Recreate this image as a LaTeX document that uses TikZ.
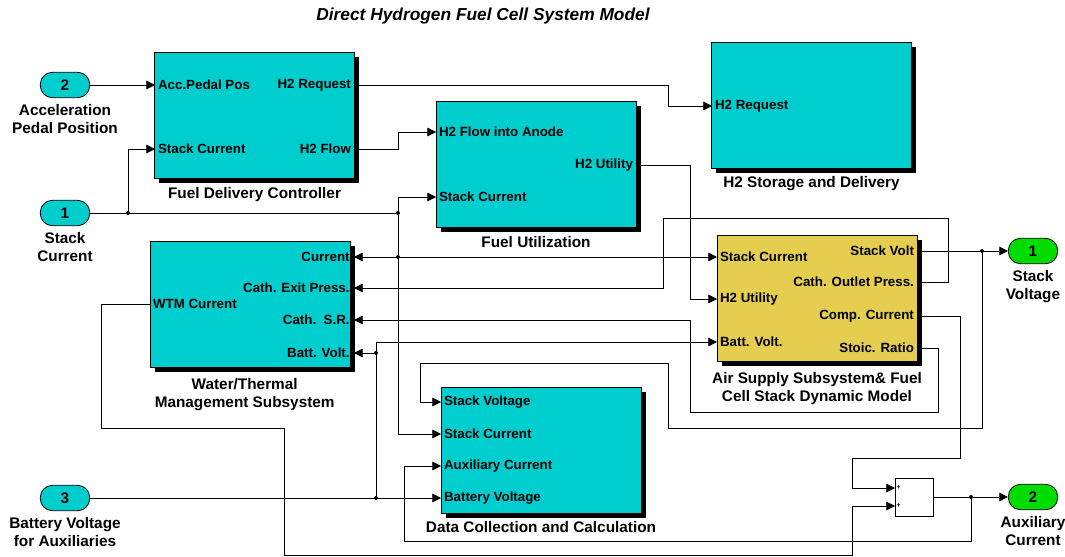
\documentclass[tikz,border=0pt]{standalone}
\usepackage{fontspec}
\setmainfont{Liberation Sans}
\usetikzlibrary{positioning,arrows.meta,shadows}
\definecolor{blockcyan}{RGB}{0,206,206}
\definecolor{blockyellow}{RGB}{229,205,80}
\definecolor{portgreen}{RGB}{0,220,0}

\begin{document}
\begin{tikzpicture}[x=0.75pt, y=-0.75pt, line width=0.6pt,
          blk/.style = {draw, fill=blockcyan, minimum width=150pt, minimum height=94.5pt, inner sep=0pt,
                        drop shadow={shadow xshift=3.5pt, shadow yshift=-3.5pt, fill=black, opacity=1}},
          portlab/.style = {font=\fontsize{10}{12}\selectfont\bfseries, inner xsep=2pt, inner ysep=1pt},
          portin/.style = {portlab, anchor=west},
          portout/.style = {portlab, anchor=east},
          blkcap/.style = {font=\fontsize{11.5}{13.5}\selectfont\bfseries, align=center},
          inport/.style = {draw, fill=blockcyan, rounded corners=9pt, minimum width=37pt, minimum height=19pt,
                           inner sep=0pt, font=\fontsize{11.5}{13}\selectfont\bfseries},
          outport/.style = {inport, fill=portgreen},
          sgn/.style = {font=\fontsize{5}{6}\selectfont\bfseries, inner sep=1pt, anchor=west},
          dot/.style = {circle, fill, inner sep=0pt, minimum size=3pt},
          sig/.style = {-{Triangle[length=6.5pt, width=6.5pt]}}]
        \useasboundingbox (0,0) rectangle (1065,557);
        \node[font=\fontsize{13}{15}\selectfont\bfseries\itshape] (title) at (483,16) {Direct Hydrogen Fuel Cell System Model};
        % ports of the model
        \node[inport] (in2) at (65,85) {2};
        \node[inport] (in1) at (65,213) {1};
        \node[inport] (in3) at (65,498) {3};
        \node[outport] (out1) at (1033,251) {1};
        \node[outport] (out2) at (1033,497) {2};
        \node[blkcap, below=1pt of in2] {Acceleration\\Pedal Position};
        \node[blkcap, below=1pt of in1] {Stack\\Current};
        \node[blkcap, below=1pt of in3] {Battery Voltage\\for Auxiliaries};
        \node[blkcap, below=1pt of out1] {Stack\\Voltage};
        \node[blkcap, below=1pt of out2] {Auxiliary\\Current};
        % subsystems
        \node[blk] (fdc) at (254.5,115) {};
        \node[blk] (fu) at (536,164) {};
        \node[blk] (h2sd) at (811.5,105) {};
        \node[blk, fill=blockyellow] (air) at (817,298.5) {};
        \node[blk] (wtm) at (250,304.5) {};
        \node[blk] (dc) at (541,450) {};
        \node[draw, fill=white, minimum size=28.5pt, inner sep=0pt] (sum) at (914,497) {};
        \node[blkcap, below=3pt of fdc] {Fuel Delivery Controller};
        \node[blkcap, below=3pt of fu] {Fuel Utilization};
        \node[blkcap, below=2pt of h2sd] {H2 Storage and Delivery};
        \node[blkcap, below=4pt of air] {Air Supply Subsystem\& Fuel\\Cell Stack Dynamic Model};
        \node[blkcap, below=4pt of wtm, xshift=-4pt] {Water/Thermal\\Management Subsystem};
        \node[blkcap, below=2pt of dc] {Data Collection and Calculation};
        % port labels
        \node[portin] (fdcAcc) at (155,85) {Acc.Pedal Pos};
        \node[portin] (fdcSC) at (155,149) {Stack Current};
        \node[portout] (fdcReq) at (354,85) {H2 Request};
        \node[portout] (fdcFlow) at (354,149) {H2 Flow};
        \node[portin] (fuH2) at (436,132) {H2 Flow into Anode};
        \node[portin] (fuSC) at (436,197) {Stack Current};
        \node[portout] (fuUtil) at (636,165) {H2 Utility};
        \node[portin] (h2Req) at (712,106) {H2 Request};
        \node[portin] (airSC) at (717,257) {Stack Current};
        \node[portin] (airH2) at (717,299) {H2 Utility};
        \node[portin] (airBatt) at (717,342) {Batt. Volt.};
        \node[portout] (airVolt) at (917,251) {Stack Volt};
        \node[portout] (airPress) at (917,282) {Cath. Outlet Press.};
        \node[portout] (airComp) at (917,316) {Comp. Current};
        \node[portout] (airStoic) at (917,348) {Stoic. Ratio};
        \node[portin] (wtmOut) at (150,304) {WTM Current};
        \foreach \n/\y/\t in {wtmCur/257/Current, wtmPress/288/Cath. Exit Press.,
                              wtmSR/320/Cath.\ \ S.R., wtmBatt/353/Batt. Volt.}
                 {
                   \node[portout, inner xsep=3pt] (\n) at (354,\y) {\t};
                 }
        \foreach \n/\y/\t in {dcSV/402/Stack Voltage, dcSC/434/Stack Current,
                              dcAux/466/Auxiliary Current, dcBatt/498/Battery Voltage}
                 {
                   \node[portin] (\n) at (441,\y) {\t};
                 }
        \node[sgn] (sumA) at (895,488) {+};
        \node[sgn] (sumB) at (895,506) {+};
        % branch points
        \foreach \n/\x/\y in {j1/128/213, j2/398/213, j3/398/257, j4/982/251,
                              j5/971/497, j6/376/498, j7/376/353}
                 {
                   \node[dot] (\n) at (\x,\y) {};
                 }
        % stack current
        \draw (in1) -- (j1) -- (j2);
        \draw[sig] (j1) |- (fdcSC.west);
        \draw[sig] (j2) |- (fuSC.west);
        \draw (j2) -- (j3);
        \draw[sig] (j3) -- (wtmCur.east);
        \draw[sig] (j3) -- (airSC.west);
        \draw[sig] (j3) |- (dcSC.west);
        % hydrogen path
        \draw[sig] (in2) -- (fdcAcc.west);
        \draw[sig] (fdcReq.east) -| (668,106) -- (h2Req.west);
        \draw[sig] (fdcFlow.east) -| (398,132) -- (fuH2.west);
        \draw[sig] (fuUtil.east) -| (690,299) -- (airH2.west);
        % stack outputs
        \draw (airVolt.east) -- (j4);
        \draw[sig] (j4) -- (out1);
        \draw[sig] (j4) |- (668,428) |- (420,363) |- (dcSV.west);
        \draw[sig] (airPress.east) -| (948,218) -| (663,288) -- (wtmPress.east);
        \draw[sig] (airStoic.east) -| (938,412) -| (690,320) -- (wtmSR.east);
        \draw[sig] (airComp.east) -| (960,458) -| (852,488) -- (sumA.west);
        \draw[sig] (wtmOut.west) -| (101,428) -| (284,555) -| (852,506) -- (sumB.west);
        % auxiliary current
        \draw (sum.east) -- (j5);
        \draw[sig] (j5) -- (out2);
        \draw[sig] (j5) |- (404,541) |- (dcAux.west);
        % battery voltage
        \draw (in3) -- (j6);
        \draw[sig] (j6) -- (dcBatt.west);
        \draw (j6) -- (j7);
        \draw[sig] (j7) -- (wtmBatt.east);
        \draw[sig] (j7) |- (airBatt.west);
      \end{tikzpicture}
\end{document}
